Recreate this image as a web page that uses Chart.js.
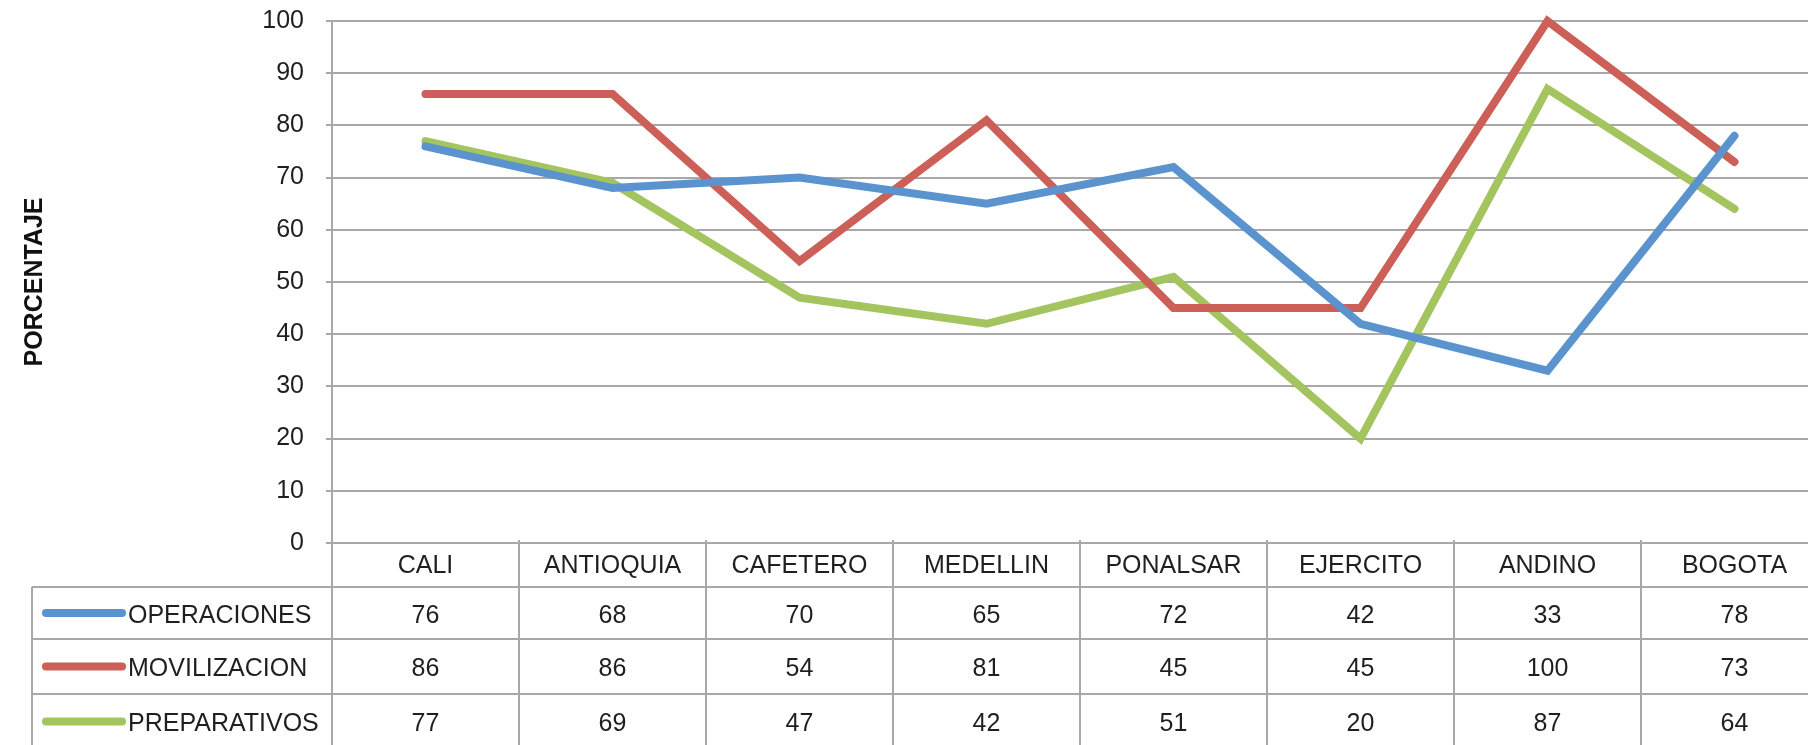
<!DOCTYPE html>
<html lang="es">
<head>
  <meta charset="UTF-8">
  <title>Porcentaje por regional</title>
  <script src="https://cdn.jsdelivr.net/npm/chart.js"></script>
  <style>
    html, body { margin: 0; padding: 0; background: #fff; overflow: hidden; }
    #wrap { width: 1808px; height: 745px; overflow: hidden; }
  </style>
</head>
<body>
<div id="wrap">
  <canvas id="grafico" width="1830" height="745"></canvas>
</div>

<script>
  const categorias = ['CALI', 'ANTIOQUIA', 'CAFETERO', 'MEDELLIN', 'PONALSAR', 'EJERCITO', 'ANDINO', 'BOGOTA'];
  const operaciones = [76, 68, 70, 65, 72, 42, 33, 78];
  const movilizacion = [86, 86, 54, 81, 45, 45, 100, 73];
  const preparativos = [77, 69, 47, 42, 51, 20, 87, 64];
  const nombres = ['OPERACIONES', 'MOVILIZACION', 'PREPARATIVOS'];
  const colores = ['#5A93CD', '#CC5F57', '#A3C45F'];

  const fuente = '"Liberation Sans", Arial, sans-serif';
  const gris = '#A8A8A8';
  const texto = '#1f1f1f';

  // tabla de datos debajo del grafico (como en Excel)
  const tablaDatos = {
    id: 'tablaDatos',
    afterDraw(chart) {
      const ctx = chart.ctx;
      const x = chart.scales.x;
      const area = chart.chartArea;
      const medio = (x.getPixelForValue(1) - x.getPixelForValue(0)) / 2;
      const izq = 32;
      const top = area.bottom;
      const filas = [top, top + 44, top + 96, top + 151, top + 206];
      const series = chart.data.datasets;

      ctx.save();
      ctx.strokeStyle = gris;
      ctx.lineWidth = 2;
      ctx.beginPath();
      ctx.moveTo(area.left, filas[0]); ctx.lineTo(chart.width, filas[0]);
      for (let r = 1; r < 4; r++) {
        ctx.moveTo(izq, filas[r]); ctx.lineTo(chart.width, filas[r]);
      }
      ctx.moveTo(izq, filas[1]); ctx.lineTo(izq, chart.height);
      ctx.moveTo(area.left, filas[0]); ctx.lineTo(area.left, chart.height);
      categorias.forEach((c, i) => {
        const bx = x.getPixelForValue(i) + medio;
        ctx.moveTo(bx, filas[0] - 3); ctx.lineTo(bx, chart.height);
      });
      ctx.stroke();

      ctx.fillStyle = texto;
      ctx.font = '25px ' + fuente;
      ctx.textAlign = 'center';
      ctx.textBaseline = 'middle';
      categorias.forEach((c, i) => {
        ctx.fillText(c, x.getPixelForValue(i), (filas[0] + filas[1]) / 2 + 1);
      });
      series.forEach((ds, s) => {
        const cy = (filas[s + 1] + filas[s + 2]) / 2 + 3;
        ds.data.forEach((v, i) => {
          ctx.fillText(String(v), x.getPixelForValue(i), cy);
        });
      });

      // claves de leyenda
      ctx.textAlign = 'left';
      series.forEach((ds, s) => {
        const cy = (filas[s + 1] + filas[s + 2]) / 2;
        ctx.strokeStyle = ds.borderColor;
        ctx.lineWidth = 8;
        ctx.lineCap = 'round';
        ctx.beginPath();
        ctx.moveTo(46, cy); ctx.lineTo(122, cy);
        ctx.stroke();
        ctx.fillStyle = texto;
        ctx.fillText(ds.label, 128, cy + 3);
      });
      ctx.restore();
    }
  };

  const datos = [operaciones, movilizacion, preparativos];

  new Chart(document.getElementById('grafico'), {
    type: 'line',
    data: {
      labels: categorias,
      datasets: datos.map((d, i) => ({
        label: nombres[i],
        data: d,
        borderColor: colores[i],
        backgroundColor: colores[i],
        borderWidth: 8,
        pointRadius: 0,
        tension: 0,
        borderCapStyle: 'round',
        borderJoinStyle: 'miter',
        clip: false
      }))
    },
    options: {
      responsive: false,
      animation: false,
      layout: { padding: { top: 21, right: 2, bottom: 202, left: 0 } },
      plugins: {
        legend: { display: false },
        tooltip: { enabled: false }
      },
      scales: {
        x: {
          display: false,
          offset: true
        },
        y: {
          min: 0,
          max: 100,
          ticks: {
            stepSize: 10,
            padding: 22,
            color: texto,
            font: { family: fuente, size: 25 }
          },
          grid: { color: gris, lineWidth: 2, tickLength: 6 },
          border: { color: gris, width: 2 },
          title: {
            display: true,
            text: 'PORCENTAJE',
            color: '#111',
            font: { family: fuente, size: 25, weight: 'bold' },
            padding: { top: 20, bottom: 0 }
          },
          afterFit(scale) {
            scale.width = 332;
            scale.paddingTop = 0;
            scale.paddingBottom = 0;
          }
        }
      }
    },
    plugins: [tablaDatos]
  });
</script>
</body>
</html>
